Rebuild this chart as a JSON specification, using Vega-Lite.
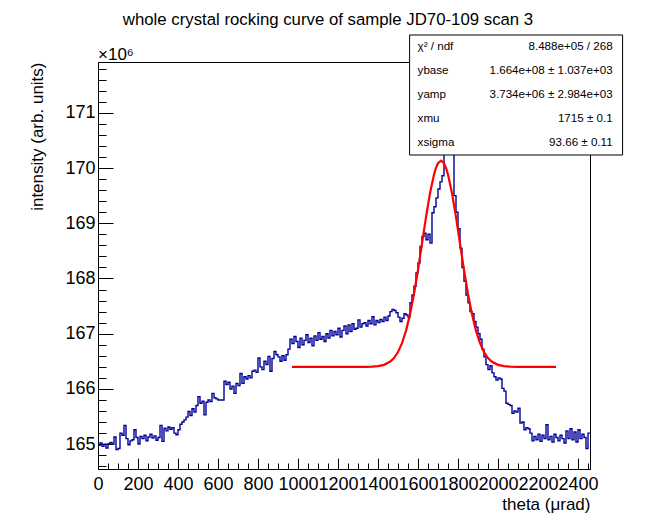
{
  "$schema": "https://vega.github.io/schema/vega-lite/v6.json",
  "width": 492,
  "height": 407,
  "autosize": {"type": "none"},
  "padding": {"left": 98, "top": 62, "right": 66, "bottom": 53},
  "background": "white",
  "title": {
    "text": "whole crystal rocking curve of sample JD70-109 scan 3",
    "anchor": "middle",
    "dx": -16,
    "offset": 6,
    "font": "Liberation Sans",
    "fontSize": 16.8,
    "fontWeight": "normal",
    "color": "black"
  },
  "config": {
    "view": {"stroke": "black", "strokeWidth": 1},
    "font": "Liberation Sans",
    "axis": {
      "grid": false,
      "domainColor": "black",
      "tickColor": "black",
      "labelColor": "black",
      "titleColor": "black",
      "labelFont": "Liberation Sans",
      "titleFont": "Liberation Sans",
      "labelFontSize": 18,
      "titleFontSize": 17,
      "titleFontWeight": "normal",
      "labelFlush": false,
      "labelOverlap": false,
      "labelBound": false
    }
  },
  "datasets": {
    "scan": [
      {"t":0,"v":164.98},{"t":10,"v":165.02},{"t":20,"v":164.96},{"t":30,"v":165.0},{"t":40,"v":164.93},
      {"t":50,"v":165.01},{"t":60,"v":165.03},{"t":70,"v":165.0},{"t":80,"v":165.13},{"t":90,"v":164.9},
      {"t":100,"v":164.92},{"t":110,"v":165.2},{"t":120,"v":165.16},{"t":130,"v":165.34},{"t":140,"v":165.1},
      {"t":150,"v":164.99},{"t":160,"v":165.06},{"t":170,"v":165.08},{"t":180,"v":165.26},{"t":190,"v":165.12},
      {"t":200,"v":165.0},{"t":210,"v":165.14},{"t":220,"v":165.1},{"t":230,"v":165.16},{"t":240,"v":165.06},
      {"t":250,"v":165.13},{"t":260,"v":165.18},{"t":270,"v":165.11},{"t":280,"v":165.15},{"t":290,"v":165.07},
      {"t":300,"v":165.12},{"t":310,"v":165.34},{"t":320,"v":165.05},{"t":330,"v":165.29},{"t":340,"v":165.24},
      {"t":350,"v":165.31},{"t":360,"v":165.27},{"t":370,"v":165.3},{"t":380,"v":165.2},{"t":390,"v":165.17},
      {"t":400,"v":165.26},{"t":410,"v":165.36},{"t":420,"v":165.4},{"t":430,"v":165.44},{"t":440,"v":165.49},
      {"t":450,"v":165.59},{"t":460,"v":165.52},{"t":470,"v":165.64},{"t":480,"v":165.58},{"t":490,"v":165.7},
      {"t":500,"v":165.86},{"t":510,"v":165.74},{"t":520,"v":165.78},{"t":530,"v":165.53},{"t":540,"v":165.76},
      {"t":550,"v":165.8},{"t":560,"v":165.77},{"t":570,"v":165.92},{"t":580,"v":165.84},{"t":590,"v":165.82},
      {"t":600,"v":165.8},{"t":610,"v":165.8},{"t":620,"v":165.8},{"t":630,"v":166.14},{"t":640,"v":166.08},
      {"t":650,"v":166.12},{"t":660,"v":166.0},{"t":670,"v":166.05},{"t":680,"v":165.92},{"t":690,"v":166.1},
      {"t":700,"v":166.06},{"t":710,"v":166.28},{"t":720,"v":166.1},{"t":730,"v":166.22},{"t":740,"v":166.18},
      {"t":750,"v":166.24},{"t":760,"v":166.2},{"t":770,"v":166.32},{"t":780,"v":166.34},{"t":790,"v":166.3},
      {"t":800,"v":166.56},{"t":810,"v":166.4},{"t":820,"v":166.35},{"t":830,"v":166.5},{"t":840,"v":166.44},
      {"t":850,"v":166.59},{"t":860,"v":166.32},{"t":870,"v":166.55},{"t":880,"v":166.68},{"t":890,"v":166.62},
      {"t":900,"v":166.58},{"t":910,"v":166.5},{"t":920,"v":166.6},{"t":930,"v":166.52},{"t":940,"v":166.62},
      {"t":950,"v":166.72},{"t":960,"v":166.9},{"t":970,"v":166.82},{"t":980,"v":166.95},{"t":990,"v":166.86},
      {"t":1000,"v":166.75},{"t":1010,"v":166.92},{"t":1020,"v":166.8},{"t":1030,"v":166.88},{"t":1040,"v":166.98},
      {"t":1050,"v":166.84},{"t":1060,"v":166.92},{"t":1070,"v":166.78},{"t":1080,"v":166.96},{"t":1090,"v":166.88},
      {"t":1100,"v":167.02},{"t":1110,"v":166.9},{"t":1120,"v":166.95},{"t":1130,"v":166.86},{"t":1140,"v":167.0},
      {"t":1150,"v":166.92},{"t":1160,"v":167.06},{"t":1170,"v":166.96},{"t":1180,"v":167.04},{"t":1190,"v":166.98},
      {"t":1200,"v":167.1},{"t":1210,"v":166.94},{"t":1220,"v":167.06},{"t":1230,"v":167.14},{"t":1240,"v":167.0},
      {"t":1250,"v":167.16},{"t":1260,"v":167.04},{"t":1270,"v":167.18},{"t":1280,"v":167.08},{"t":1290,"v":167.1},
      {"t":1300,"v":167.25},{"t":1310,"v":167.12},{"t":1320,"v":167.18},{"t":1330,"v":167.2},{"t":1340,"v":167.14},
      {"t":1350,"v":167.24},{"t":1360,"v":167.18},{"t":1370,"v":167.31},{"t":1380,"v":167.16},{"t":1390,"v":167.24},
      {"t":1400,"v":167.2},{"t":1410,"v":167.26},{"t":1420,"v":167.22},{"t":1430,"v":167.3},{"t":1440,"v":167.24},
      {"t":1450,"v":167.32},{"t":1460,"v":167.4},{"t":1470,"v":167.44},{"t":1480,"v":167.42},{"t":1490,"v":167.38},
      {"t":1500,"v":167.3},{"t":1510,"v":167.22},{"t":1520,"v":167.28},{"t":1530,"v":167.36},{"t":1540,"v":167.34},
      {"t":1550,"v":167.3},{"t":1560,"v":167.56},{"t":1570,"v":167.7},{"t":1580,"v":167.86},{"t":1590,"v":168.1},
      {"t":1600,"v":168.28},{"t":1610,"v":168.58},{"t":1620,"v":168.76},{"t":1630,"v":168.82},{"t":1640,"v":168.7},
      {"t":1650,"v":168.8},{"t":1660,"v":168.64},{"t":1670,"v":169.19},{"t":1680,"v":169.3},{"t":1690,"v":169.46},
      {"t":1700,"v":169.62},{"t":1710,"v":169.75},{"t":1720,"v":169.86},{"t":1730,"v":170.5},{"t":1740,"v":170.6},
      {"t":1750,"v":170.7},{"t":1760,"v":170.6},{"t":1770,"v":170.5},{"t":1780,"v":169.5},{"t":1790,"v":169.2},
      {"t":1800,"v":168.9},{"t":1810,"v":168.55},{"t":1820,"v":168.2},{"t":1830,"v":167.95},{"t":1840,"v":167.7},
      {"t":1850,"v":167.56},{"t":1860,"v":167.4},{"t":1870,"v":167.36},{"t":1880,"v":167.22},{"t":1890,"v":167.12},
      {"t":1900,"v":167.0},{"t":1910,"v":166.9},{"t":1920,"v":166.72},{"t":1930,"v":166.58},{"t":1940,"v":166.44},
      {"t":1950,"v":166.35},{"t":1960,"v":166.42},{"t":1970,"v":166.29},{"t":1980,"v":166.22},{"t":1990,"v":166.16},
      {"t":2000,"v":166.2},{"t":2010,"v":166.18},{"t":2020,"v":166.01},{"t":2030,"v":165.96},{"t":2040,"v":165.74},
      {"t":2050,"v":165.72},{"t":2060,"v":165.7},{"t":2070,"v":165.56},{"t":2080,"v":165.6},{"t":2090,"v":165.58},
      {"t":2100,"v":165.65},{"t":2110,"v":165.38},{"t":2120,"v":165.4},{"t":2130,"v":165.26},{"t":2140,"v":165.3},
      {"t":2150,"v":165.28},{"t":2160,"v":165.2},{"t":2170,"v":165.06},{"t":2180,"v":165.14},{"t":2190,"v":165.08},
      {"t":2200,"v":165.18},{"t":2210,"v":165.05},{"t":2220,"v":165.16},{"t":2230,"v":165.1},{"t":2240,"v":165.35},
      {"t":2250,"v":165.08},{"t":2260,"v":165.14},{"t":2270,"v":165.04},{"t":2280,"v":165.18},{"t":2290,"v":165.12},
      {"t":2300,"v":165.06},{"t":2310,"v":165.16},{"t":2320,"v":165.1},{"t":2330,"v":165.02},{"t":2340,"v":165.24},
      {"t":2350,"v":165.1},{"t":2360,"v":165.28},{"t":2370,"v":165.08},{"t":2380,"v":165.22},{"t":2390,"v":165.04},
      {"t":2400,"v":165.26},{"t":2410,"v":165.1},{"t":2420,"v":165.18},{"t":2430,"v":165.12},{"t":2440,"v":164.92},
      {"t":2450,"v":165.2},{"t":2460,"v":165.2}
    ],
    "fit": [
      {"t":970,"v":166.4},{"t":1340,"v":166.401},{"t":1370,"v":166.404},{"t":1400,"v":166.413},{"t":1430,"v":166.436},
      {"t":1460,"v":166.492},{"t":1480,"v":166.56},{"t":1500,"v":166.668},{"t":1520,"v":166.828},{"t":1540,"v":167.052},
      {"t":1560,"v":167.35},{"t":1580,"v":167.721},{"t":1600,"v":168.157},{"t":1620,"v":168.632},{"t":1640,"v":169.11},
      {"t":1660,"v":169.543},{"t":1680,"v":169.882},{"t":1690,"v":170.003},{"t":1700,"v":170.086},{"t":1715,"v":170.134},
      {"t":1730,"v":170.086},{"t":1740,"v":170.003},{"t":1750,"v":169.882},{"t":1770,"v":169.543},{"t":1790,"v":169.11},
      {"t":1810,"v":168.632},{"t":1830,"v":168.157},{"t":1850,"v":167.721},{"t":1870,"v":167.35},{"t":1890,"v":167.052},
      {"t":1910,"v":166.828},{"t":1930,"v":166.668},{"t":1950,"v":166.56},{"t":1970,"v":166.492},{"t":2000,"v":166.436},
      {"t":2030,"v":166.413},{"t":2060,"v":166.404},{"t":2090,"v":166.401},{"t":2290,"v":166.4}
    ],
    "stats": [
      {"k":1,"name":"χ² / ndf","val":"8.488e+05 / 268"},
      {"k":2,"name":"ybase","val":"1.664e+08 ± 1.037e+03"},
      {"k":3,"name":"yamp","val":"3.734e+06 ± 2.984e+03"},
      {"k":4,"name":"xmu","val":"1715 ± 0.1"},
      {"k":5,"name":"xsigma","val":"93.66 ± 0.11"}
    ]
  },
  "layer": [
    {
      "layer": [
        {
          "data": {"name": "scan"},
          "mark": {"type": "line", "interpolate": "step-after", "color": "#000099", "strokeWidth": 1.4},
          "encoding": {
            "x": {
              "field": "t",
              "type": "quantitative",
              "scale": {"domain": [0, 2460], "nice": false, "zero": false},
              "axis": {
                "values": [0,50,100,150,200,250,300,350,400,450,500,550,600,650,700,750,800,850,900,950,1000,1050,1100,1150,1200,1250,1300,1350,1400,1450,1500,1550,1600,1650,1700,1750,1800,1850,1900,1950,2000,2050,2100,2150,2200,2250,2300,2350,2400,2450],
                "tickCount": 100,
                "format": "d",
                "labelExpr": "datum.value % 200 === 0 ? datum.label : ''",
                "tickSize": {"condition": {"test": "datum.value % 200 === 0", "value": -11}, "value": -6},
                "labelPadding": 17,
                "labelOverlap": false,
                "title": "theta (μrad)",
                "titleAnchor": "end",
                "titleAlign": "right",
                "titlePadding": -2
              }
            },
            "y": {
              "field": "v",
              "type": "quantitative",
              "scale": {"domain": [164.55, 171.92], "nice": false, "zero": false},
              "axis": {
                "values": [164.6,164.8,165,165.2,165.4,165.6,165.8,166,166.2,166.4,166.6,166.8,167,167.2,167.4,167.6,167.8,168,168.2,168.4,168.6,168.8,169,169.2,169.4,169.6,169.8,170,170.2,170.4,170.6,170.8,171,171.2,171.4,171.6,171.8],
                "tickCount": 100,
                "format": ".0f",
                "labelExpr": "abs(datum.value - round(datum.value)) < 0.001 ? datum.label : ''",
                "tickSize": {"condition": {"test": "abs(datum.value - round(datum.value)) < 0.001", "value": -15}, "value": -8},
                "labelPadding": 18,
                "labelOverlap": false,
                "title": "intensity (arb. units)",
                "titleAnchor": "end",
                "titlePadding": 18
              }
            }
          }
        },
        {
          "data": {"name": "fit"},
          "mark": {"type": "line", "color": "#ff0000", "strokeWidth": 2.2},
          "encoding": {
            "x": {"field": "t", "type": "quantitative"},
            "y": {"field": "v", "type": "quantitative"}
          }
        },
        {
          "data": {"values": [{}]},
          "mark": {"type": "text", "align": "left", "baseline": "alphabetic", "dy": -2, "fontSize": 17, "color": "black"},
          "encoding": {
            "x": {"datum": 0, "type": "quantitative"},
            "y": {"datum": 171.92, "type": "quantitative"},
            "text": {"value": "×10⁶"}
          }
        }
      ]
    },
    {
      "layer": [
        {
          "data": {"values": [{}]},
          "mark": {"type": "rect", "fill": "white", "stroke": "black", "strokeWidth": 1},
          "encoding": {
            "x": {"datum": 1558, "type": "quantitative"},
            "x2": {"datum": 2623},
            "y": {"datum": 0.5, "type": "quantitative", "axis": null, "scale": {"domain": [1.625, 18.583], "reverse": true, "nice": false, "zero": false}},
            "y2": {"datum": 5.5}
          }
        },
        {
          "data": {"name": "stats"},
          "mark": {"type": "text", "align": "left", "baseline": "middle", "fontSize": 11.6, "color": "black"},
          "encoding": {
            "x": {"datum": 1598, "type": "quantitative"},
            "y": {"field": "k", "type": "quantitative", "axis": null},
            "text": {"field": "name"}
          }
        },
        {
          "data": {"name": "stats"},
          "mark": {"type": "text", "align": "right", "baseline": "middle", "fontSize": 11.6, "color": "black"},
          "encoding": {
            "x": {"datum": 2573, "type": "quantitative"},
            "y": {"field": "k", "type": "quantitative", "axis": null},
            "text": {"field": "val"}
          }
        }
      ]
    }
  ],
  "resolve": {"scale": {"y": "independent"}}
}
